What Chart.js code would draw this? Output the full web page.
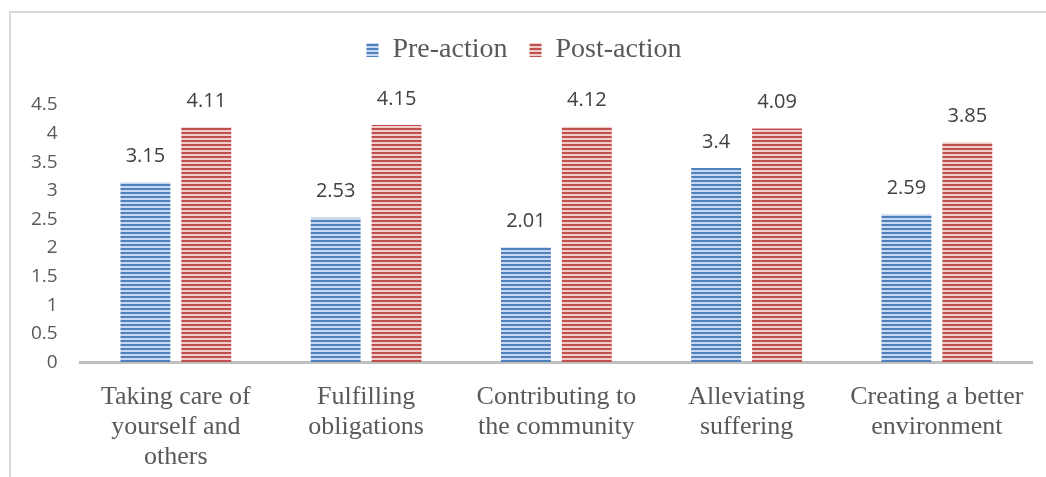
<!DOCTYPE html>
<html>
<head>
<meta charset="utf-8">
<script src="https://cdn.jsdelivr.net/npm/chart.js@4/dist/chart.umd.min.js"></script>
<style>
  html, body { margin: 0; padding: 0; background: #fff; }
  #wrap { width: 1046px; height: 477px; position: relative; }
</style>
</head>
<body>
<div id="wrap"><canvas id="chart"></canvas></div>
<script>
const categories = [
  ['Taking care of', 'yourself and', 'others'],
  ['Fulfilling', 'obligations'],
  ['Contributing to', 'the community'],
  ['Alleviating', 'suffering'],
  ['Creating a better', 'environment']
];
const preAction = [3.15, 2.53, 2.01, 3.4, 2.59];
const postAction = [4.11, 4.15, 4.12, 4.09, 3.85];
const seriesNames = ['Pre-action', 'Post-action'];

function stripes(dark, light) {
  const c = document.createElement('canvas');
  c.width = 4; c.height = 4;
  const g = c.getContext('2d');
  g.fillStyle = light; g.fillRect(0, 0, 4, 4);
  g.fillStyle = dark; g.fillRect(0, 0, 4, 2);
  return g.createPattern(c, 'repeat');
}

const ctx = document.getElementById('chart').getContext('2d');

// values above bars
const valueLabels = {
  id: 'valueLabels',
  afterDatasetsDraw(chart) {
    const c = chart.ctx;
    c.save();
    c.font = '20px "Open Sans", sans-serif';
    c.fillStyle = '#404040';
    c.textAlign = 'center';
    c.textBaseline = 'middle';
    chart.data.datasets.forEach((ds, i) => {
      chart.getDatasetMeta(i).data.forEach((bar, j) => {
        c.fillText(String(ds.data[j]), bar.x, bar.y - 26);
      });
    });
    c.restore();
  }
};

// light frame round the chart
const frame = {
  id: 'frame',
  beforeDraw(chart) {
    const c = chart.ctx;
    c.save();
    c.strokeStyle = '#d9d9d9';
    c.lineWidth = 2;
    c.strokeRect(10, 12, chart.width + 20, chart.height + 20);
    c.restore();
  }
};

// extra room under the legend
const legendGap = {
  id: 'legendGap',
  beforeInit(chart) {
    const fit = chart.legend.fit;
    chart.legend.fit = function () {
      fit.bind(chart.legend)();
      this.height += 31;
    };
  }
};

new Chart(ctx, {
  type: 'bar',
  data: {
    labels: categories,
    datasets: [
      {
        label: seriesNames[0],
        data: preAction,
        backgroundColor: stripes('#4f81bd', '#c9d8ee'),
        borderWidth: 0,
      },
      {
        label: seriesNames[1],
        data: postAction,
        backgroundColor: stripes('#c0504d', '#f0cccb'),
        borderWidth: 0,
      },
    ],
  },
  options: {
    responsive: true,
    maintainAspectRatio: false,
    animation: false,
    layout: { padding: { top: 14, right: 14, bottom: -7, left: 16 } },
    datasets: {
      bar: { categoryPercentage: 0.64, barPercentage: 0.82 }
    },
    plugins: {
      legend: {
        position: 'top',
        labels: {
          boxWidth: 12,
          boxHeight: 14,
          padding: 22,
          color: '#595959',
          font: { family: '"Liberation Serif", serif', size: 28 },
        },
      },
      tooltip: { enabled: false },
    },
    scales: {
      x: {
        grid: { display: false },
        border: { display: true, color: '#bfbfbf', width: 3 },
        ticks: {
          color: '#595959',
          font: { family: '"Liberation Serif", serif', size: 26, lineHeight: 1.15 },
          maxRotation: 0,
          padding: 12,
        },
      },
      y: {
        min: 0,
        max: 4.5,
        grid: { display: false },
        border: { display: false },
        ticks: {
          stepSize: 0.5,
          color: '#595959',
          padding: 15,
          font: { family: '"Open Sans", sans-serif', size: 19 },
          callback: (v) => String(Math.round(v * 10) / 10),
        },
      },
    },
  },
  plugins: [frame, legendGap, valueLabels],
});
</script>
</body>
</html>
